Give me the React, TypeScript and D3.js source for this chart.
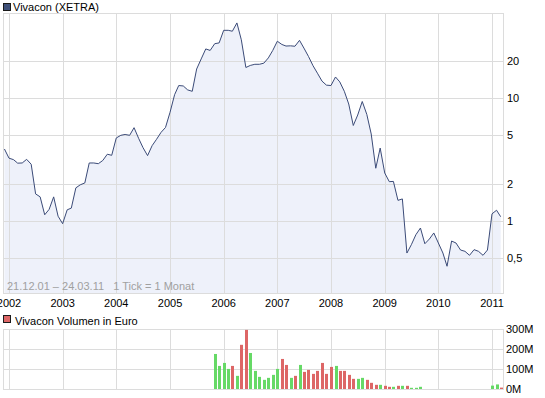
import { useMemo } from "react";
import * as d3 from "d3";

// monthly closes (Vivacon, XETRA), one array per year
const p2001 = [3.87]; // Dec
const p2002 = [3.26, 3.17, 2.97, 2.98, 3.19, 2.91, 1.67, 1.58, 1.13, 1.25, 1.58, 1.1];
const p2003 = [0.956, 1.24, 1.28, 1.87, 1.98, 2.05, 2.98, 2.98, 2.94, 3.12, 3.51, 3.44];
const p2004 = [4.76, 5.0, 5.08, 5.0, 5.77, 4.73, 3.97, 3.42, 4.12, 4.64, 5.29, 5.79];
const p2005 = [7.7, 10.7, 12.7, 12.6, 11.7, 11.4, 17.3, 20.9, 25.2, 24.5, 27.8, 28.2];
const p2006 = [35.7, 35.7, 35.1, 41.0, 29.9, 17.8, 18.5, 18.9, 18.9, 19.3, 21.3, 24.5];
const p2007 = [29.1, 27.4, 26.6, 26.7, 26.5, 29.6, 25.6, 21.9, 18.4, 16.0, 13.8, 12.8];
const p2008 = [12.7, 14.9, 13.6, 11.4, 8.99, 6.01, 7.31, 9.42, 7.4, 5.13, 2.7, 3.94];
const p2009 = [2.47, 2.1, 2.11, 1.48, 1.52, 0.552, 0.645, 0.778, 0.882, 0.657, 0.718, 0.804];
const p2010 = [0.666, 0.552, 0.431, 0.691, 0.666, 0.584, 0.57, 0.529, 0.588, 0.57, 0.529, 0.584];
const p2011 = [1.15, 1.23, 1.09];

// monthly turnover in million euro
const v2001 = [0];
const v2002 = [0, 0, 0, 0, 0, 0, 0, 0, 0, 0, 0, 0];
const v2003 = [0, 0, 0, 0, 0, 0, 0, 0, 0, 0, 0, 0];
const v2004 = [0, 0, 0, 0, 0, 0, 0, 0, 0, 0, 0, 0];
const v2005 = [0, 0, 0, 0, 0, 0, 0, 0, 0, 0, 176, 116];
const v2006 = [131, 101, 116, 66, 222, 297, 181, 91, 61, 46, 56, 71];
const v2007 = [101, 151, 121, 56, 66, 121, 86, 96, 76, 91, 131, 76];
const v2008 = [111, 116, 91, 91, 71, 51, 51, 56, 46, 31, 21, 21];
const v2009 = [16, 11, 11, 16, 16, 16, 6, 6, 11, 0, 0, 0];
const v2010 = [0, 0, 0, 0, 0, 0, 0, 0, 0, 0, 0, 0];
const v2011 = [17, 23, 7];

const years = [2002, 2003, 2004, 2005, 2006, 2007, 2008, 2009, 2010, 2011];
const priceTicks = [0.5, 1, 2, 5, 10, 20];
const volTicks = [0, 100, 200, 300];

const seriesName = "Vivacon (XETRA)";
const volumeName = "Vivacon Volumen in Euro";
const rangeNote = "21.12.01 \u2013 24.03.11   1 Tick = 1 Monat";

const FONT = "'Liberation Sans', Arial, sans-serif";
const FS = 11;
const GRID = "#dcdcdc";
const LINE = "#3b4b78";
const FILL = "#eef1fa";
const UP = "#66d966";
const DOWN = "#dd6666";

type Pt = { date: Date; close: number; vol: number; up: boolean };

export default function App() {
  const points = useMemo<Pt[]>(() => {
    const closes = [...p2001, ...p2002, ...p2003, ...p2004, ...p2005, ...p2006, ...p2007, ...p2008, ...p2009, ...p2010, ...p2011];
    const vols = [...v2001, ...v2002, ...v2003, ...v2004, ...v2005, ...v2006, ...v2007, ...v2008, ...v2009, ...v2010, ...v2011];
    return closes.map((c, i) => ({
      date: new Date(2001, 11 + i, 1),
      close: c,
      vol: vols[i],
      up: i === 0 ? true : c >= closes[i - 1],
    }));
  }, []);

  const x = d3.scaleTime().domain([new Date(2002, 0, 1), new Date(2011, 0, 1)]).range([9, 492]);
  const yP = d3.scaleLog().domain([1, 10]).range([221.3, 98.3]);
  const yV = d3.scaleLinear().domain([0, 300]).range([389, 329.3]);

  const plotTop = 13;
  const plotBottom = 293;
  const left = 3;
  const right = 503;

  const de = d3.formatLocale({ decimal: ",", thousands: ".", grouping: [3], currency: ["", "\u20ac"] });
  const fmt = (v: number) => (v < 1 ? de.format(".1f")(v) : String(v));

  const area = d3
    .area<Pt>()
    .x((d) => x(d.date))
    .y0(plotBottom)
    .y1((d) => yP(d.close));
  const line = d3
    .line<Pt>()
    .x((d) => x(d.date))
    .y((d) => yP(d.close));

  const crisp = (v: number) => Math.round(v) + 0.5;

  return (
    <svg width={545} height={398} style={{ position: "absolute", left: 0, top: 0, background: "#fff" }} fontFamily={FONT}>
      {/* price legend */}
      <rect x={3.5} y={3.5} width={7} height={7} fill="#3f5079" stroke="#1a1a1a" />
      <text x={13} y={11} fontSize={FS} fill="#000">{seriesName}</text>

      {/* price panel */}
      <path d={area(points) || ""} fill={FILL} />
      {priceTicks.map((t) => (
        <line key={"hp" + t} x1={left} x2={right} y1={crisp(yP(t))} y2={crisp(yP(t))} stroke={GRID} />
      ))}
      {years.map((yr) => {
        const xx = crisp(x(new Date(yr, 0, 1)));
        return <line key={"vp" + yr} x1={xx} x2={xx} y1={plotTop} y2={plotBottom} stroke={GRID} />;
      })}
      <rect x={left + 0.5} y={plotTop + 0.5} width={right - left} height={plotBottom - plotTop} fill="none" stroke={GRID} />
      <path d={line(points) || ""} fill="none" stroke={LINE} strokeWidth={1} />
      <text x={7} y={290} fontSize={FS} fill="#a0a0a0" style={{ whiteSpace: "pre" }}>{rangeNote}</text>
      {priceTicks.map((t) => (
        <text key={"lp" + t} x={507} y={yP(t)} dy="0.35em" fontSize={FS} fill="#000">{fmt(t)}</text>
      ))}
      {years.map((yr) => (
        <text key={"yl" + yr} x={x(new Date(yr, 0, 1))} y={307} textAnchor="middle" fontSize={FS} fill="#000">{yr}</text>
      ))}

      {/* volume legend */}
      <rect x={3.5} y={315.5} width={7} height={7} fill={DOWN} stroke="#1a1a1a" />
      <text x={15} y={325} fontSize={FS} fill="#000">{volumeName}</text>

      {/* volume panel */}
      {volTicks.map((t) => (
        <line key={"hv" + t} x1={left} x2={right} y1={crisp(yV(t))} y2={crisp(yV(t))} stroke={GRID} />
      ))}
      {years.map((yr) => {
        const xx = crisp(x(new Date(yr, 0, 1)));
        return <line key={"vv" + yr} x1={xx} x2={xx} y1={329} y2={389} stroke={GRID} />;
      })}
      <rect x={left + 0.5} y={329.5} width={right - left} height={60} fill="none" stroke={GRID} />
      {points
        .filter((d) => d.vol > 0)
        .map((d, i) => (
          <rect
            key={"b" + i}
            x={Math.round(x(d.date)) - 1}
            y={yV(d.vol)}
            width={3}
            height={yV(0) - yV(d.vol)}
            fill={d.up ? UP : DOWN}
          />
        ))}
      {volTicks.map((t) => (
        <text key={"lv" + t} x={506} y={yV(t)} dy="0.35em" fontSize={FS} fill="#000">{t + "M"}</text>
      ))}
    </svg>
  );
}
